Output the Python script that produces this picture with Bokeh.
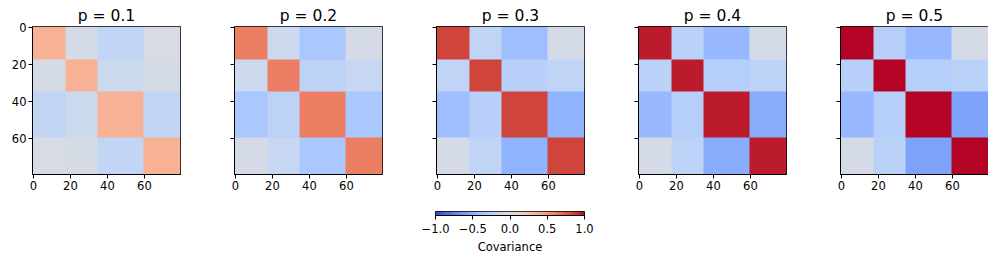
import numpy as np
from bokeh.plotting import figure
from bokeh.layouts import row, column
from bokeh.models import Range1d, LinearColorMapper, FixedTicker
from bokeh.embed import file_html
from bokeh.resources import INLINE

# ---------------- data ----------------
p_values = [0.1, 0.2, 0.3, 0.4, 0.5]
block_sizes = [18, 17, 25, 20]          # 80 variables in 4 groups
# diagonal-block covariance per panel
diag_vals = [
    [0.37, 0.37, 0.37, 0.37],
    [0.62, 0.62, 0.62, 0.62],
    [0.85, 0.85, 0.85, 0.85],
    [0.96, 0.96, 0.96, 0.96],
    [1.10, 1.10, 1.10, 1.10],
]
# off-diagonal blocks: (0,1), (0,2), (0,3), (1,2), (1,3), (2,3)
off_vals = [
    [-0.07, -0.18, -0.05, -0.13, -0.06, -0.18],
    [-0.12, -0.33, -0.07, -0.22, -0.15, -0.33],
    [-0.20, -0.40, -0.07, -0.25, -0.20, -0.48],
    [-0.24, -0.43, -0.07, -0.26, -0.22, -0.52],
    [-0.25, -0.44, -0.07, -0.27, -0.24, -0.58],
]
ticks = [0, 20, 40, 60]
cbar_ticks = [-1.0, -0.5, 0.0, 0.5, 1.0]
cbar_labels = ["\u22121.0", "\u22120.5", "0.0", "0.5", "1.0"]

# ---------------- coolwarm palette ----------------
cw = [(59,76,192),(68,90,204),(77,104,215),(87,117,225),(98,130,234),(108,142,241),
      (119,154,247),(130,165,251),(141,176,254),(152,185,255),(163,194,255),(174,201,253),
      (184,208,249),(194,213,244),(204,217,238),(213,219,230),(221,221,221),(229,216,209),
      (236,211,197),(241,204,185),(245,196,173),(247,187,160),(247,177,148),(247,166,135),
      (244,154,123),(241,141,111),(236,127,99),(229,112,88),(222,96,77),(213,80,66),
      (203,62,56),(192,40,47),(180,4,38)]
cw = np.array(cw, dtype=float)
t_anchor = np.linspace(0, 1, len(cw))
t = np.linspace(0, 1, 256)
palette = []
for ti in t:
    r = np.interp(ti, t_anchor, cw[:, 0]); g = np.interp(ti, t_anchor, cw[:, 1]); b = np.interp(ti, t_anchor, cw[:, 2])
    palette.append("#%02x%02x%02x" % (int(round(r)), int(round(g)), int(round(b))))
mapper = LinearColorMapper(palette=palette, low=-1, high=1)

FONT = "DejaVu Sans"
pairs = [(0, 1), (0, 2), (0, 3), (1, 2), (1, 3), (2, 3)]

def build_matrix(k):
    B = np.zeros((4, 4))
    for i in range(4):
        B[i, i] = diag_vals[k][i]
    for (i, j), v in zip(pairs, off_vals[k]):
        B[i, j] = v
        B[j, i] = v
    idx = np.repeat(np.arange(4), block_sizes)
    return B[np.ix_(idx, idx)]

def style_axis(ax):
    ax.minor_tick_line_color = None
    ax.major_tick_in = 0
    ax.major_tick_out = 4
    ax.major_tick_line_color = "black"
    ax.axis_line_color = "black"
    ax.major_label_text_font = FONT
    ax.major_label_text_font_size = "11.5px"
    ax.major_label_text_color = "black"
    ax.major_label_standoff = 2

figs = []
n = len(p_values)
for k, pv in enumerate(p_values):
    first = (k == 0)
    last = (k == n - 1)
    left = 32 if first else 24
    right = 0 if last else 30
    f = figure(width=left + 148 + right, height=203, output_backend="svg", toolbar_location=None,
               x_range=Range1d(-0.5, 79.5), y_range=Range1d(79.5, -0.5),
               min_border_left=left, min_border_right=right,
               min_border_top=26, min_border_bottom=29,
               title="p = %.1f" % pv)
    M = build_matrix(k)
    f.image(image=[M], x=-0.5, y=-0.5, dw=80, dh=80, color_mapper=mapper)
    f.title.align = "center"
    f.title.text_font = FONT
    f.title.text_font_size = "15.5px"
    f.title.text_font_style = "normal"
    f.title.text_color = "black"
    f.title.offset = 0
    f.title.standoff = 4
    f.grid.visible = False
    f.outline_line_color = "black"
    f.outline_line_width = 1
    f.outline_line_alpha = 1
    f.background_fill_color = "white"
    f.border_fill_color = "white"
    for ax in (f.xaxis[0], f.yaxis[0]):
        ax.ticker = FixedTicker(ticks=ticks)
        style_axis(ax)
    if not first:
        f.yaxis[0].major_label_overrides = {t_: "" for t_ in ticks}
    figs.append(f)

# ---------------- colorbar ----------------
cb = figure(width=988, height=53, output_backend="svg", toolbar_location=None,
            x_range=Range1d(-1, 1), y_range=Range1d(0, 1),
            min_border_left=435, min_border_right=404,
            min_border_top=8, min_border_bottom=36)
grad = np.linspace(-1, 1, 256).reshape(1, 256)
cb.image(image=[grad], x=-1, y=0, dw=2, dh=1, color_mapper=mapper)
cb.yaxis.visible = False
cb.grid.visible = False
cb.outline_line_color = "black"
cb.outline_line_alpha = 1
ax = cb.xaxis[0]
ax.ticker = FixedTicker(ticks=cbar_ticks)
ax.major_label_overrides = {v: s for v, s in zip(cbar_ticks, cbar_labels)}
style_axis(ax)
ax.major_label_standoff = 4
ax.axis_label = "Covariance"
ax.axis_label_text_font = FONT
ax.axis_label_text_font_size = "11.5px"
ax.axis_label_text_font_style = "normal"
ax.axis_label_text_color = "black"
ax.axis_label_standoff = 4

layout = column(row(*figs), cb)
open("out.html", "w").write(file_html(layout, INLINE))
